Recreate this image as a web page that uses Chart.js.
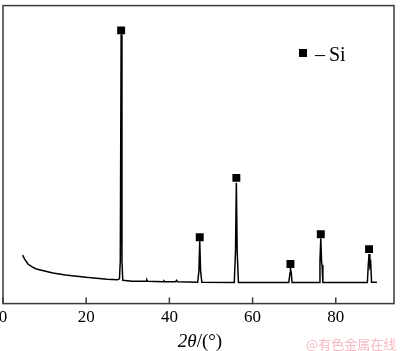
<!DOCTYPE html>
<html>
<head>
<meta charset="utf-8">
<script src="https://cdn.jsdelivr.net/npm/chart.js@4/dist/chart.umd.min.js"></script>
<style>
  html, body { margin: 0; padding: 0; background: #fff; }
  #wrap { position: relative; width: 400px; height: 351px; overflow: hidden; }
  #myChart { position: absolute; left: -19px; top: 0; }
  .serif { font-family: "Liberation Serif", "DejaVu Serif", serif; color: #000; }
  #xtitle { position: absolute; left: 0; width: 400px; top: 330px; text-align: center; font-size: 19px; line-height: 22px; }
  #legend { position: absolute; left: 299px; top: 42px; font-size: 20px; line-height: 24px; white-space: nowrap; }
  #legend .box { display: inline-block; width: 8px; height: 8px; background: #000; vertical-align: 4px; margin-right: 8px; }
  #legend .dash { margin-right: 4px; }
  #mark { position: absolute; left: 306px; top: 334px; font-size: 13px; color: #f5b9c2; font-family: "Noto Sans CJK SC", sans-serif; }
</style>
</head>
<body>
<div id="wrap">
  <canvas id="myChart" width="430" height="351"></canvas>
  <div id="xtitle" class="serif"><i>2θ</i>/(°)</div>
  <div id="legend" class="serif"><span class="box"></span><span class="dash">–</span>Si</div>
  <div id="mark">@有色金属在线</div>
</div>
<script>
// XRD pattern, 2theta in degrees, intensity in arbitrary units
var twoTheta = [4.7, 5.2, 6, 7, 8, 10, 12, 15, 20, 25, 27.5, 28.0, 28.2, 28.4, 28.6, 28.8,
  31, 34.5, 34.6, 34.8, 38.5, 38.7, 39, 41.5, 41.7, 42, 46.8, 47.1, 47.3, 47.5, 47.8,
  55.6, 55.9, 56.1, 56.3, 56.6, 68.7, 69.0, 69.1, 69.3, 69.5, 76.0, 76.2, 76.4, 76.6, 76.7, 76.9,
  87.6, 87.8, 88.0, 88.2, 88.4, 88.6, 89.9]
var intensity = [49, 45, 40, 37, 35, 33, 31, 29, 26.5, 24.5, 24, 25, 43, 272, 43, 23.5,
  22.5, 22.5, 24, 22.5, 22, 23, 22, 22, 23.5, 22, 21.5, 33, 63, 33, 21.5,
  21.3, 53, 122, 53, 21.3, 21.3, 31, 36, 31, 21.3, 21.3, 43, 66, 41, 39, 21.3,
  21.3, 38, 50, 38, 41, 21.5, 21.5]

// Si peak markers
var siPos = [28.4, 47.3, 56.1, 69.1, 76.4, 88.0]
var siMark = [276, 67, 127, 40, 70, 55]

var xTicks = [0, 20, 40, 60, 80]

const framePlugin = {
  id: 'frame',
  afterDraw(chart) {
    const ctx = chart.ctx, a = chart.chartArea, x = chart.scales.x
    ctx.save()
    ctx.strokeStyle = '#3a3a3a'
    ctx.lineWidth = 1.5
    ctx.strokeRect(a.left, a.top, a.right - a.left, a.bottom - a.top)
    ctx.beginPath()
    xTicks.forEach(function (t) {
      const px = x.getPixelForValue(t)
      ctx.moveTo(px, a.bottom)
      ctx.lineTo(px, a.bottom - 6)
    })
    ctx.stroke()
    ctx.restore()
  }
}

const ctx = document.getElementById('myChart').getContext('2d')

const chart = new Chart(ctx, {
  type: 'scatter',
  data: {
    datasets: [{
      type: 'line',
      data: twoTheta.map((t, i) => ({ x: t, y: intensity[i] })),
      borderColor: '#000',
      borderWidth: 1.5,
      pointRadius: 0,
      tension: 0
    }, {
      data: siPos.map((t, i) => ({ x: t, y: siMark[i] })),
      pointStyle: 'rect',
      pointRadius: 5.6,
      backgroundColor: '#000',
      borderColor: '#000',
      borderWidth: 0
    }]
  },
  options: {
    responsive: false,
    animation: false,
    layout: { padding: { left: 22, right: 17, top: 2, bottom: 19 } },
    plugins: { legend: { display: false }, tooltip: { enabled: false } },
    scales: {
      x: {
        type: 'linear',
        min: 0,
        max: 94,
        afterBuildTicks: (s) => { s.ticks = xTicks.map(v => ({ value: v })) },
        grid: { display: false, drawTicks: false, tickLength: 0 },
        border: { display: false },
        ticks: {
          color: '#000',
          padding: 4,
          font: { family: 'Liberation Serif', size: 17 }
        }
      },
      y: {
        display: false,
        min: 0,
        max: 301
      }
    }
  },
  plugins: [framePlugin]
})
</script>
</body>
</html>
